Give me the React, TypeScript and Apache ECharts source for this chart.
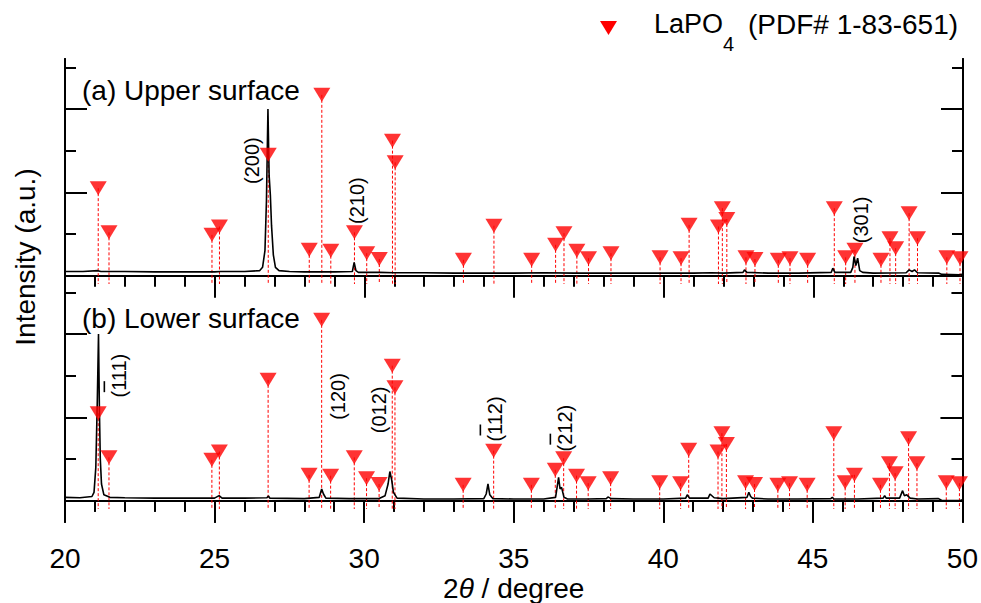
import React, { useEffect, useRef } from 'react';
import * as echarts from 'echarts';

const FONT = '"Liberation Sans", Arial, Helvetica, sans-serif';

// LaPO4 reference (PDF# 1-83-651): 2θ positions and marker heights (a.u.)
const pdfPositions = [21.11, 21.47, 24.91, 25.16, 26.79, 28.16, 28.58, 28.88, 29.67, 30.08, 30.5, 30.94, 31.03, 33.31, 34.33, 35.59, 36.39, 36.67, 37.1, 37.49, 38.24, 39.88, 40.58, 40.85, 41.83, 41.96, 42.11, 42.75, 43.05, 43.83, 44.22, 44.81, 45.7, 46.08, 46.39, 47.26, 47.56, 47.75, 48.2, 48.48, 49.46, 49.9];
const pdfIntensities = [1.05, 0.52, 0.49, 0.59, 1.45, 0.31, 2.17, 0.3, 0.52, 0.27, 0.2, 1.62, 1.36, 0.19, 0.6, 0.19, 0.37, 0.51, 0.3, 0.21, 0.27, 0.22, 0.21, 0.61, 0.59, 0.81, 0.68, 0.22, 0.2, 0.19, 0.21, 0.19, 0.81, 0.22, 0.31, 0.19, 0.45, 0.33, 0.75, 0.45, 0.22, 0.21];

// (a) Upper surface pattern [2θ, intensity]
const upperPattern: [number, number][] = [
  [20, 0.05], [20.6, 0.05], [21.1, 0.06], [21.2, 0.05], [22, 0.05], [23, 0.045], [24, 0.045], [25, 0.045], [25.2, 0.05], [26, 0.05],
  [26.5, 0.06], [26.6, 0.1], [26.68, 0.3], [26.73, 0.9], [26.78, 2.0], [26.82, 1.2], [26.86, 0.97], [26.9, 0.6], [26.96, 0.25], [27.03, 0.1], [27.15, 0.06],
  [27.5, 0.05], [28, 0.045], [29, 0.045], [29.6, 0.05], [29.66, 0.16], [29.72, 0.06], [29.8, 0.04], [30.5, 0.04], [31, 0.035], [32, 0.035],
  [33, 0.03], [34, 0.03], [35, 0.03], [36, 0.035], [37, 0.03], [38, 0.03], [39, 0.03], [40, 0.03], [41, 0.03], [41.6, 0.035], [42, 0.03],
  [42.65, 0.04], [42.7, 0.07], [42.78, 0.04], [43.5, 0.03], [44.5, 0.03], [45.6, 0.04], [45.65, 0.09], [45.72, 0.04], [46.25, 0.04],
  [46.32, 0.1], [46.36, 0.23], [46.42, 0.12], [46.48, 0.21], [46.55, 0.06], [46.65, 0.04], [47, 0.03], [48.1, 0.035], [48.2, 0.07],
  [48.3, 0.05], [48.38, 0.07], [48.48, 0.035], [49.2, 0.03], [49.3, 0.015], [49.9, 0.01], [50, 0.02],
];

// (b) Lower surface pattern [2θ, intensity]
const lowerPattern: [number, number][] = [
  [20, 0.04], [20.5, 0.035], [20.9, 0.05], [20.97, 0.1], [21.03, 0.4], [21.08, 1.2], [21.12, 2.0], [21.15, 1.1], [21.18, 0.5], [21.22, 0.2],
  [21.3, 0.07], [21.5, 0.04], [22, 0.035], [23, 0.03], [24, 0.03], [25, 0.03], [25.15, 0.06], [25.25, 0.03], [26, 0.03], [26.75, 0.035],
  [26.8, 0.055], [26.85, 0.03], [28, 0.025], [28.5, 0.04], [28.58, 0.14], [28.64, 0.08], [28.72, 0.03], [29.5, 0.025], [30.5, 0.025],
  [30.7, 0.06], [30.8, 0.2], [30.86, 0.35], [30.92, 0.25], [30.98, 0.1], [31.1, 0.03], [32, 0.02], [33, 0.02], [34, 0.025], [34.08, 0.08],
  [34.14, 0.2], [34.2, 0.07], [34.3, 0.025], [35, 0.02], [36, 0.02], [36.4, 0.04], [36.5, 0.28], [36.55, 0.14], [36.6, 0.16], [36.68, 0.04],
  [36.8, 0.02], [37.5, 0.02], [38.1, 0.025], [38.15, 0.045], [38.25, 0.025], [39, 0.02], [40, 0.02], [40.75, 0.03], [40.8, 0.07],
  [40.88, 0.03], [41.5, 0.03], [41.56, 0.08], [41.7, 0.035], [42, 0.025], [42.8, 0.04], [42.86, 0.1], [42.92, 0.05], [42.98, 0.03],
  [43.5, 0.02], [44.5, 0.02], [45.6, 0.025], [45.65, 0.04], [45.7, 0.02], [46.5, 0.02], [47.35, 0.03], [47.4, 0.06], [47.45, 0.03],
  [47.9, 0.03], [48.0, 0.12], [48.06, 0.06], [48.14, 0.07], [48.25, 0.03], [48.5, 0.02], [49.2, 0.025], [49.3, 0.005], [49.9, 0.0], [50, 0.01],
];

const xTickInterval = 5;
const yMajorTicks = [0, 1, 2];
const yMinorTicks = [0.5, 1.5, 2.5];

// Peak labels: text, whether first index has overbar, 2θ, intensity, panel
const peakLabels = [
  { text: '(200)', bar: false, x: 26.26, y: 1.38, panel: 0 },
  { text: '(210)', bar: false, x: 29.76, y: 0.9, panel: 0 },
  { text: '(301)', bar: false, x: 46.6, y: 0.67, panel: 0 },
  { text: '(111)', bar: true, x: 21.8, y: 1.5, panel: 1 },
  { text: '(120)', bar: false, x: 29.12, y: 1.25, panel: 1 },
  { text: '(012)', bar: false, x: 30.49, y: 1.09, panel: 1 },
  { text: '(112)', bar: true, x: 34.37, y: 0.98, panel: 1 },
  { text: '(212)', bar: true, x: 36.71, y: 0.87, panel: 1 },
];

const panelTitles = ['(a) Upper surface', '(b) Lower surface'];

const BLACK = '#000';
const RED = '#ff0000';
const Y_MIN = -0.1;
const Y_MAX = 2.6;

function App() {
  const ref = useRef<HTMLDivElement>(null);

  useEffect(() => {
    if (!ref.current) return;
    const chart = echarts.init(ref.current, undefined, { renderer: 'svg' });

    const lineStyle = { color: BLACK, width: 2 };
    const xBase = {
      type: 'value', min: 20, max: 50, interval: xTickInterval,
      axisLine: { show: true, lineStyle },
      splitLine: { show: false },
    };
    const xInsideTicks = {
      axisTick: { show: true, inside: true, length: 22, lineStyle },
      minorTick: { show: true, splitNumber: 5, length: 11, lineStyle },
      axisLabel: { show: false },
    };
    const yAx = (grid: number, pos: string, values: number[], len: number) => ({
      type: 'value', gridIndex: grid, position: pos, min: Y_MIN, max: Y_MAX,
      axisLine: { show: true, lineStyle },
      axisTick: { show: true, inside: true, length: len, customValues: values, lineStyle },
      axisLabel: { show: false },
      splitLine: { show: false },
    });

    const pdfData = pdfPositions.map((p, i) => [p, pdfIntensities[i]]);

    const series: any[] = [];
    [upperPattern, lowerPattern].forEach((pattern, panel) => {
      const xi = panel === 0 ? 0 : 2;
      const yi = panel === 0 ? 0 : 4;
      series.push({
        type: 'custom', xAxisIndex: xi, yAxisIndex: yi, z: 2, silent: true,
        data: pdfData,
        renderItem: (params: any, api: any) => {
          const top = api.coord([api.value(0), api.value(1)]);
          const bot = api.coord([api.value(0), Y_MIN]);
          return {
            type: 'line',
            shape: { x1: top[0], y1: top[1], x2: bot[0], y2: bot[1] },
            style: { stroke: RED, lineWidth: 1, lineDash: [3, 2] },
          };
        },
      });
      series.push({
        type: 'line', xAxisIndex: xi, yAxisIndex: yi, z: 3,
        data: pattern, showSymbol: false, symbol: 'none',
        lineStyle: { color: BLACK, width: 1.6 },
      });
      series.push({
        type: 'scatter', xAxisIndex: xi, yAxisIndex: yi, z: 4,
        data: pdfData, symbol: 'triangle', symbolRotate: 180, symbolSize: [17, 14],
        itemStyle: { color: RED },
      });
    });

    chart.setOption({
      animation: false,
      backgroundColor: '#fff',
      textStyle: { fontFamily: FONT },
      grid: [
        { left: 65, right: 18, top: 59, height: 225 },
        { left: 65, right: 18, top: 284, height: 226 },
      ],
      xAxis: [
        { ...xBase, gridIndex: 0, position: 'top', ...xInsideTicks },
        { ...xBase, gridIndex: 0, position: 'bottom', axisTick: { show: false }, axisLabel: { show: false } },
        { ...xBase, gridIndex: 1, position: 'top', ...xInsideTicks },
        {
          ...xBase, gridIndex: 1, position: 'bottom',
          axisTick: { show: true, inside: false, length: 22, lineStyle },
          minorTick: { show: true, splitNumber: 5, length: 11, lineStyle },
          axisLabel: { show: true, fontSize: 28, color: BLACK, fontFamily: FONT, margin: 35 },
          name: '2{i|θ} / degree',
          nameLocation: 'middle',
          nameGap: 65,
          nameTextStyle: {
            fontSize: 28, color: BLACK, fontFamily: FONT,
            rich: { i: { fontSize: 28, fontStyle: 'italic', color: BLACK, fontFamily: FONT } },
          },
        },
      ],
      yAxis: [
        yAx(0, 'left', yMajorTicks, 22), yAx(0, 'left', yMinorTicks, 11),
        yAx(0, 'right', yMajorTicks, 22), yAx(0, 'right', yMinorTicks, 11),
        yAx(1, 'left', yMajorTicks, 22), yAx(1, 'left', yMinorTicks, 11),
        yAx(1, 'right', yMajorTicks, 22), yAx(1, 'right', yMinorTicks, 11),
      ],
      series,
    });

    const graphics: any[] = [];
    peakLabels.forEach((a) => {
      const pt = chart.convertToPixel(
        { xAxisIndex: a.panel === 0 ? 0 : 2, yAxisIndex: a.panel === 0 ? 0 : 4 },
        [a.x, a.y]
      ) as number[];
      const children: any[] = [
        {
          type: 'text',
          style: {
            text: a.text, x: 0, y: 0, fill: BLACK, fontSize: 20, fontFamily: FONT,
            align: 'center', verticalAlign: 'middle', textAlign: 'center', textVerticalAlign: 'middle',
          },
        },
      ];
      if (a.bar) {
        children.push({
          type: 'line',
          shape: { x1: -16.5, y1: -14.5, x2: -5.5, y2: -14.5 },
          style: { stroke: BLACK, lineWidth: 1.6 },
        });
      }
      graphics.push({ type: 'group', x: pt[0], y: pt[1], rotation: Math.PI / 2, children });
    });

    panelTitles.forEach((t, i) => {
      graphics.push({
        type: 'text', x: 82, y: i === 0 ? 90 : 318,
        style: {
          text: t, fill: BLACK, fontSize: 28, fontFamily: FONT,
          align: 'left', verticalAlign: 'middle', textAlign: 'left', textVerticalAlign: 'middle',
        },
      });
    });

    // y-axis title
    graphics.push({
      type: 'text', x: 25, y: 257, rotation: Math.PI / 2,
      style: {
        text: 'Intensity (a.u.)', fill: BLACK, fontSize: 28, fontFamily: FONT,
        align: 'center', verticalAlign: 'middle', textAlign: 'center', textVerticalAlign: 'middle',
      },
    });

    // legend
    graphics.push({
      type: 'polygon',
      shape: { points: [[600, 21], [617, 21], [608.5, 35]] },
      style: { fill: RED },
    });
    graphics.push({
      type: 'text', x: 654, y: 24,
      style: {
        text: 'LaPO', fill: BLACK, fontSize: 27, fontFamily: FONT,
        align: 'left', verticalAlign: 'middle', textAlign: 'left', textVerticalAlign: 'middle',
      },
    });
    graphics.push({
      type: 'text', x: 723, y: 34,
      style: {
        text: '4', fill: BLACK, fontSize: 20, fontFamily: FONT,
        align: 'left', verticalAlign: 'top', textAlign: 'left', textVerticalAlign: 'top',
      },
    });
    graphics.push({
      type: 'text', x: 748, y: 24,
      style: {
        text: '(PDF# 1-83-651)', fill: BLACK, fontSize: 28, fontFamily: FONT,
        align: 'left', verticalAlign: 'middle', textAlign: 'left', textVerticalAlign: 'middle',
      },
    });

    chart.setOption({ graphic: graphics });

    return () => chart.dispose();
  }, []);

  return (
    <div
      ref={ref}
      style={{ position: 'fixed', left: 0, top: 0, width: 981, height: 603, background: '#fff' }}
    />
  );
}

export default App;
